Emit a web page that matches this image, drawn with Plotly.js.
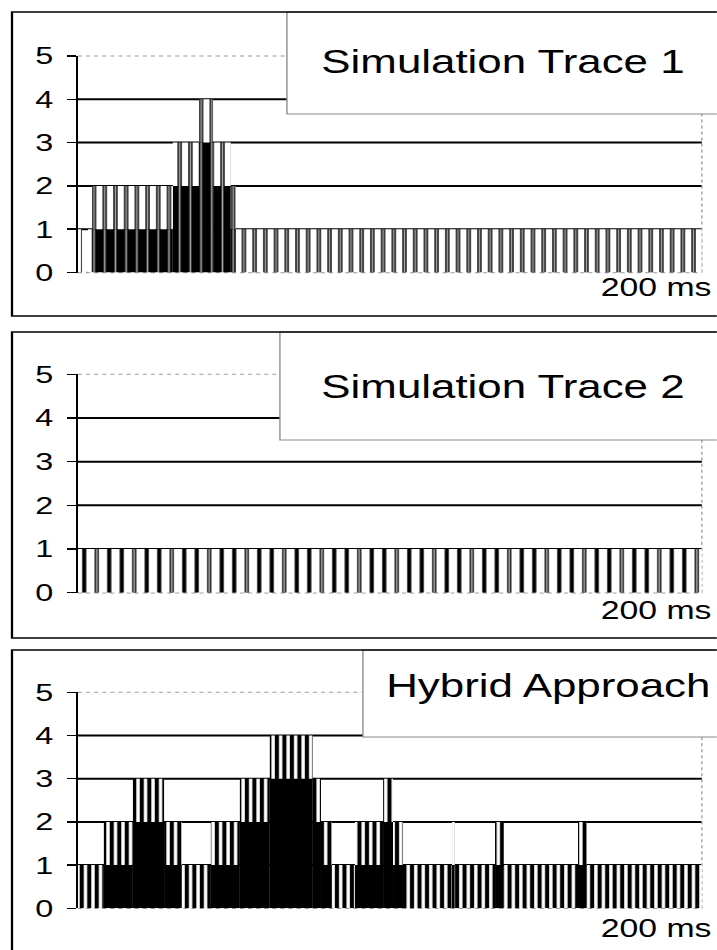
<!DOCTYPE html>
<html><head><meta charset="utf-8">
<script src="https://cdn.plot.ly/plotly-3.0.1.min.js"></script>
<style>
html,body{margin:0;padding:0;background:#fff;overflow:hidden;}
#wrap{width:531px;height:950px;transform:scaleX(1.35);transform-origin:0 0;}
</style></head><body><div id="wrap"><div id="chart"></div></div>
<script>
// ---------- data ----------
const yTicks = [0, 1, 2, 3, 4, 5];
const yTickText = ['0', '1', '2', '3', '4', '5'];
const gridLevels = [1, 2, 3, 4];
const panelTitles = ['Simulation Trace 1', 'Simulation Trace 2', 'Hybrid Approach'];
const spanLabel = '200 ms';
const timeRange = [0, 200];

// step profiles: segment start time (ms) and number of concurrent activities
const trace1Start = [0, 1.3, 3.2, 4.5, 30.4, 38.8, 43.3, 49.0, 50.6];
const trace1Level = [1, 0, 1, 2, 3, 4, 3, 2, 1];

const trace2Start = [0];
const trace2Level = [1];

const hybridStart = [0, 8.3, 17.6, 27.6, 33.3, 42.6, 51.9, 61.5, 75.3, 77.9, 81.4,
                     88.8, 97.8, 101.0, 104.2, 119.9, 120.8, 133.7, 136.5, 160.3, 163.1];
const hybridLevel = [1, 2, 3, 2, 1, 2, 3, 4, 3, 2, 1,
                     2, 3, 2, 1, 2, 1, 2, 1, 2, 1];

// ---------- helpers ----------
const FONT = 'Liberation Sans, Arial, sans-serif';
const W = 717, H = 950;
const px = v => v / W;
const py = v => 1 - v / H;
const GRAY = '#a6a6a6';

function segments(starts, levels) {
  const mids = [], widths = [], lower = [], topBase = [], topH = [];
  for (let i = 0; i < starts.length; i++) {
    const a = starts[i];
    const b = i + 1 < starts.length ? starts[i + 1] : timeRange[1];
    const lv = levels[i];
    mids.push((a + b) / 2);
    widths.push(b - a);
    lower.push(Math.max(lv - 1, 0));
    topBase.push(Math.max(lv - 1, 0));
    topH.push(lv > 0 ? 1 : 0);
  }
  return { mids, widths, lower, topBase, topH };
}

function panelTraces(seg, n, st) {
  const xa = 'x' + (n === 1 ? '' : n), ya = 'y' + (n === 1 ? '' : n);
  const common = { type: 'bar', xaxis: xa, yaxis: ya, x: seg.mids, width: seg.widths,
                   hoverinfo: 'skip', opacity: 1, showlegend: false };
  const tr = [];
  // fully occupied levels: dark
  const lowerMarker = { color: 'black', line: { width: 0 } };
  if (st.grayEvery) {
    lowerMarker.pattern = { shape: '|', fillmode: 'overlay', fgcolor: GRAY, fgopacity: 1,
      size: st.size * st.grayEvery, solidity: st.graySolidity };
  }
  tr.push(Object.assign({}, common, { y: seg.lower, base: 0, marker: lowerMarker }));
  // topmost level: striped
  tr.push(Object.assign({}, common, {
    y: seg.topH, base: seg.topBase,
    marker: { color: 'black', line: { width: 0 },
      pattern: { shape: '|', fgcolor: 'black', bgcolor: 'white', size: st.size, solidity: st.solidity } }
  }));
  // grey-filled interiors of some columns
  if (st.grayEvery) {
    tr.push(Object.assign({}, common, {
      y: seg.topH, base: seg.topBase,
      marker: { color: GRAY, line: { width: 0 },
        pattern: { shape: '|', fillmode: 'replace', fgcolor: GRAY, bgcolor: 'rgba(255,255,255,0)',
                   fgopacity: 1, size: st.size * st.grayEvery, solidity: st.graySolidity } }
    }));
  }
  return tr;
}

const xDom = [px(78), px(702)];
const panels = [
  { zero: 272.5, five: 56,  top: 12,  bottom: 316, boxLeft: 287, boxBottom: 114,
    titleX: 503, titleY: 62,  spanY: 286.6 },
  { zero: 592.7, five: 374.3, top: 332, bottom: 638, boxLeft: 280, boxBottom: 440,
    titleX: 503, titleY: 387, spanY: 609.5 },
  { zero: 908.3, five: 692.3, top: 650, bottom: 970, boxLeft: 363, boxBottom: 737,
    titleX: 548.5, titleY: 686, spanY: 927.5 }
];

const seg1 = segments(trace1Start, trace1Level);
const seg2 = segments(trace2Start, trace2Level);
const seg3 = segments(hybridStart, hybridLevel);

const data = [].concat(
  panelTraces(seg1, 1, { size: 7.93, solidity: 0.4, grayEvery: 1, graySolidity: 0.16 }),
  panelTraces(seg2, 2, { size: 9.26, solidity: 0.33, grayEvery: 3, graySolidity: 0.045 }),
  panelTraces(seg3, 3, { size: 5.56, solidity: 0.55 })
);

const layout = {
  width: 531, height: H, margin: { l: 0, r: 0, t: 0, b: 0 },
  paper_bgcolor: 'white', plot_bgcolor: 'rgba(0,0,0,0)',
  showlegend: false, barmode: 'overlay',
  font: { family: FONT, color: 'black' },
  shapes: [], annotations: []
};

panels.forEach((p, i) => {
  const n = i + 1, sfx = n === 1 ? '' : String(n);
  layout['xaxis' + sfx] = {
    domain: xDom, range: timeRange, anchor: 'y' + sfx,
    showticklabels: false, showgrid: false, zeroline: false, showline: false, ticks: '',
    fixedrange: true
  };
  layout['yaxis' + sfx] = {
    domain: [py(p.zero), py(p.five)], range: [0, 5], anchor: 'x' + sfx,
    tickmode: 'array', tickvals: yTicks, ticktext: yTickText,
    showgrid: false, zeroline: false,
    showline: true, linecolor: 'black', linewidth: 1.5,
    ticks: 'outside', ticklen: 7, tickwidth: 1.5, tickcolor: 'black',
    ticklabelstandoff: 5,
    tickfont: { family: FONT, size: 24, color: 'black' }, fixedrange: true
  };
  const xd = 'x' + sfx + ' domain', yd = 'y' + sfx + ' domain', yv = 'y' + sfx;
  gridLevels.forEach(g => layout.shapes.push({
    type: 'line', layer: 'below', xref: xd, yref: yv, x0: 0, x1: 1, y0: g, y1: g,
    line: { color: 'black', width: 2 }
  }));
  layout.shapes.push({ type: 'line', layer: 'below', xref: xd, yref: yd, x0: 0, x1: 1, y0: 1, y1: 1,
    line: { color: '#9a9a9a', width: 1, dash: 'dot' } });
  layout.shapes.push({ type: 'line', layer: 'below', xref: xd, yref: yd, x0: 0, x1: 1, y0: 0, y1: 0,
    line: { color: '#9a9a9a', width: 1.5, dash: 'dot' } });
  layout.shapes.push({ type: 'line', layer: 'below', xref: xd, yref: yd, x0: 1, x1: 1, y0: 0, y1: 1,
    line: { color: '#9a9a9a', width: 1, dash: 'dot' } });
  layout.shapes.push({ type: 'rect', layer: 'above', xref: 'paper', yref: 'paper',
    x0: px(p.boxLeft), x1: 1.05, y0: py(p.boxBottom), y1: py(p.top),
    fillcolor: 'white', line: { color: '#8a8a8a', width: 1 } });
  layout.shapes.push({ type: 'rect', layer: 'above', xref: 'paper', yref: 'paper',
    x0: px(12), x1: 1.05, y0: py(p.bottom), y1: py(p.top),
    fillcolor: 'rgba(0,0,0,0)', line: { color: 'black', width: 1.7 } });
  layout.annotations.push({ xref: 'paper', yref: 'paper', x: px(p.titleX), y: py(p.titleY),
    xanchor: 'center', yanchor: 'middle', showarrow: false, text: panelTitles[i],
    font: { family: FONT, size: 32.5, color: 'black' } });
  layout.annotations.push({ xref: 'paper', yref: 'paper', x: px(714), y: py(p.spanY),
    xanchor: 'right', yanchor: 'middle', showarrow: false, text: spanLabel,
    font: { family: FONT, size: 25, color: 'black' } });
});

Plotly.newPlot('chart', data, layout, { staticPlot: true, displayModeBar: false });
</script>
</body></html>
